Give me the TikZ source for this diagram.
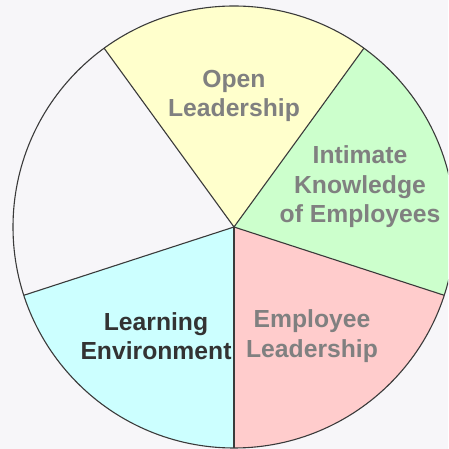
\documentclass[tikz,border=0pt]{standalone}
\usepackage{fontspec}
\setmainfont{Liberation Sans}
\definecolor{bgcol}{HTML}{F7F6F9}
\definecolor{yelcol}{HTML}{FFFFCC}
\definecolor{grncol}{HTML}{CCFFCC}
\definecolor{pnkcol}{HTML}{FFCCCC}
\definecolor{cyncol}{HTML}{CCFFFF}
\definecolor{edgecol}{HTML}{3A3A3A}
\definecolor{txtgray}{HTML}{808080}
\definecolor{txtdark}{HTML}{333333}
\tikzset{
  rim/.style={draw=edgecol, line width=1.1pt},
  lbl/.style={align=center, font=\fontsize{24.7}{29.5}\selectfont\bfseries, text=txtgray, inner sep=0pt},
}
\begin{document}
\begin{tikzpicture}[x=1pt,y=1pt]
\useasboundingbox[fill=bgcol] (0,0) rectangle (448,449);
\clip (0,0) rectangle (448,449);
\coordinate (c) at (234,222);
% sectors
\fill[yelcol] (c) -- ++(54:221) arc[start angle=54, end angle=126, radius=221] -- cycle;
\fill[grncol] (c) -- ++(-18:221) arc[start angle=-18, end angle=54, radius=221] -- cycle;
\fill[pnkcol] (c) -- ++(270:221) arc[start angle=270, end angle=342, radius=221] -- cycle;
\fill[cyncol] (c) -- ++(198:221) arc[start angle=198, end angle=270, radius=221] -- cycle;
% rim and spokes
\draw[rim] (c) circle[radius=221];
\draw[rim] (c) -- ++(54:221);
\draw[rim] (c) -- ++(126:221);
\draw[rim] (c) -- ++(198:221);
\draw[rim] (c) -- ++(270:221);
\draw[rim] (c) -- ++(342:221);
% labels
\node[lbl] (open) at (234,353) {Open\\Leadership};
\node[lbl] (know) at (360,262) {Intimate\\Knowledge\\of Employees};
\node[lbl, text=txtdark] (learn) at (156,113) {Learning\\Environment};
\node[lbl] (empl) at (312,113) {Employee\\Leadership};
\end{tikzpicture}
\end{document}
